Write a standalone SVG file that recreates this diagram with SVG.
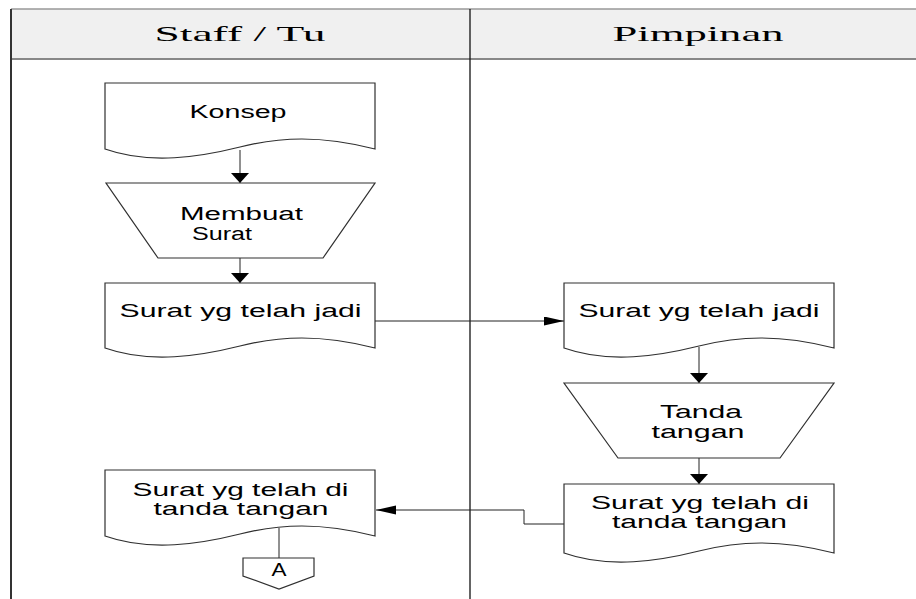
<svg xmlns="http://www.w3.org/2000/svg" width="916" height="599" viewBox="0 0 916 599">
<style>
.shape{fill:#fff;stroke:#303030;stroke-width:1.2}
.conn{fill:none;stroke:#222;stroke-width:1}
.lbl{font-family:"Liberation Sans",Arial,sans-serif;font-size:18px;fill:#000;text-anchor:middle}
.hdr{font-family:"Liberation Serif","Times New Roman",serif;font-size:22px;fill:#000;text-anchor:middle}
</style>
<defs>
<marker id="arrV" markerUnits="userSpaceOnUse" markerWidth="11" markerHeight="18" refX="10" refY="9" orient="auto" viewBox="0 0 11 18">
<path d="M0,0 L10,9 L0,18 Z" fill="#000"/>
</marker>
<marker id="arrH" markerUnits="userSpaceOnUse" markerWidth="21" markerHeight="10" refX="20" refY="4.5" orient="auto" viewBox="0 0 21 10">
<path d="M0,0 L20,4.5 L0,9 Z" fill="#000"/>
</marker>
</defs>
<rect width="916" height="599" fill="#fff"/>
<g id="lanes">
<rect x="11" y="9" width="905" height="50" fill="#f0f0f0"/>
<line x1="11" y1="9" x2="916" y2="9" stroke="#999" stroke-width="1.5"/>
<line x1="11" y1="59" x2="916" y2="59" stroke="#888" stroke-width="2"/>
<line x1="11" y1="9" x2="11" y2="599" stroke="#333" stroke-width="2"/>
<line x1="470" y1="9" x2="470" y2="599" stroke="#111" stroke-width="1.3"/>
<text class="hdr" x="240" y="41" textLength="171" lengthAdjust="spacingAndGlyphs">Staff / Tu</text>
<text class="hdr" x="698" y="41" textLength="171" lengthAdjust="spacingAndGlyphs">Pimpinan</text>
</g>
<g id="connectors">
<path class="conn" d="M240,150 V183" marker-end="url(#arrV)"/>
<path class="conn" d="M240,258 V283" marker-end="url(#arrV)"/>
<path class="conn" d="M375,321 H564" marker-end="url(#arrH)"/>
<path class="conn" d="M699,347 V383" marker-end="url(#arrV)"/>
<path class="conn" d="M699,458 V484" marker-end="url(#arrV)"/>
<path class="conn" d="M564,524 H524 V510 H376" marker-end="url(#arrH)"/>
<path class="conn" d="M279,528 V558"/>
</g>
<g id="konsep">
<path class="shape" d="M105,149 V83 H375 V149 c -55,-14 -95,-12 -135,-2 c -40,10 -90,18 -135,2 Z"/>
<text class="lbl" x="238" y="118" textLength="97" lengthAdjust="spacingAndGlyphs">Konsep</text>
</g>
<g id="membuat-surat">
<path class="shape" d="M106,183 H375 L323,258 H158 Z"/>
<text class="lbl" x="241.5" y="220" textLength="123" lengthAdjust="spacingAndGlyphs">Membuat</text>
<text class="lbl" x="222" y="240" textLength="60" lengthAdjust="spacingAndGlyphs">Surat</text>
</g>
<g id="surat-jadi-staff">
<path class="shape" d="M105,348 V283 H375 V348 c -55,-14 -95,-12 -135,-2 c -40,10 -90,18 -135,2 Z"/>
<text class="lbl" x="240.5" y="317" textLength="242" lengthAdjust="spacingAndGlyphs">Surat yg telah jadi</text>
</g>
<g id="surat-jadi-pimpinan">
<path class="shape" d="M564,348 V283 H834 V348 c -55,-14 -95,-12 -135,-2 c -40,10 -90,18 -135,2 Z"/>
<text class="lbl" x="699" y="317" textLength="241" lengthAdjust="spacingAndGlyphs">Surat yg telah jadi</text>
</g>
<g id="tanda-tangan">
<path class="shape" d="M564,383 H834 L780,458 H618 Z"/>
<text class="lbl" x="701" y="418" textLength="82" lengthAdjust="spacingAndGlyphs">Tanda</text>
<text class="lbl" x="698" y="438" textLength="93" lengthAdjust="spacingAndGlyphs">tangan</text>
</g>
<g id="surat-ttd-pimpinan">
<path class="shape" d="M564,553 V484 H834 V553 c -55,-14 -95,-12 -135,-2 c -40,10 -90,18 -135,2 Z"/>
<text class="lbl" x="700" y="509" textLength="218" lengthAdjust="spacingAndGlyphs">Surat yg telah di</text>
<text class="lbl" x="699.5" y="528" textLength="175" lengthAdjust="spacingAndGlyphs">tanda tangan</text>
</g>
<g id="surat-ttd-staff">
<path class="shape" d="M105,536 V470 H375 V536 c -55,-14 -95,-12 -135,-2 c -40,10 -90,18 -135,2 Z"/>
<text class="lbl" x="240.5" y="496" textLength="216" lengthAdjust="spacingAndGlyphs">Surat yg telah di</text>
<text class="lbl" x="241" y="515" textLength="175" lengthAdjust="spacingAndGlyphs">tanda tangan</text>
</g>
<g id="offpage-a">
<path class="shape" d="M243,558 H314 V576 L279,589 L243,576 Z"/>
<text class="lbl" x="279" y="576" textLength="15" lengthAdjust="spacingAndGlyphs">A</text>
</g>
</svg>
